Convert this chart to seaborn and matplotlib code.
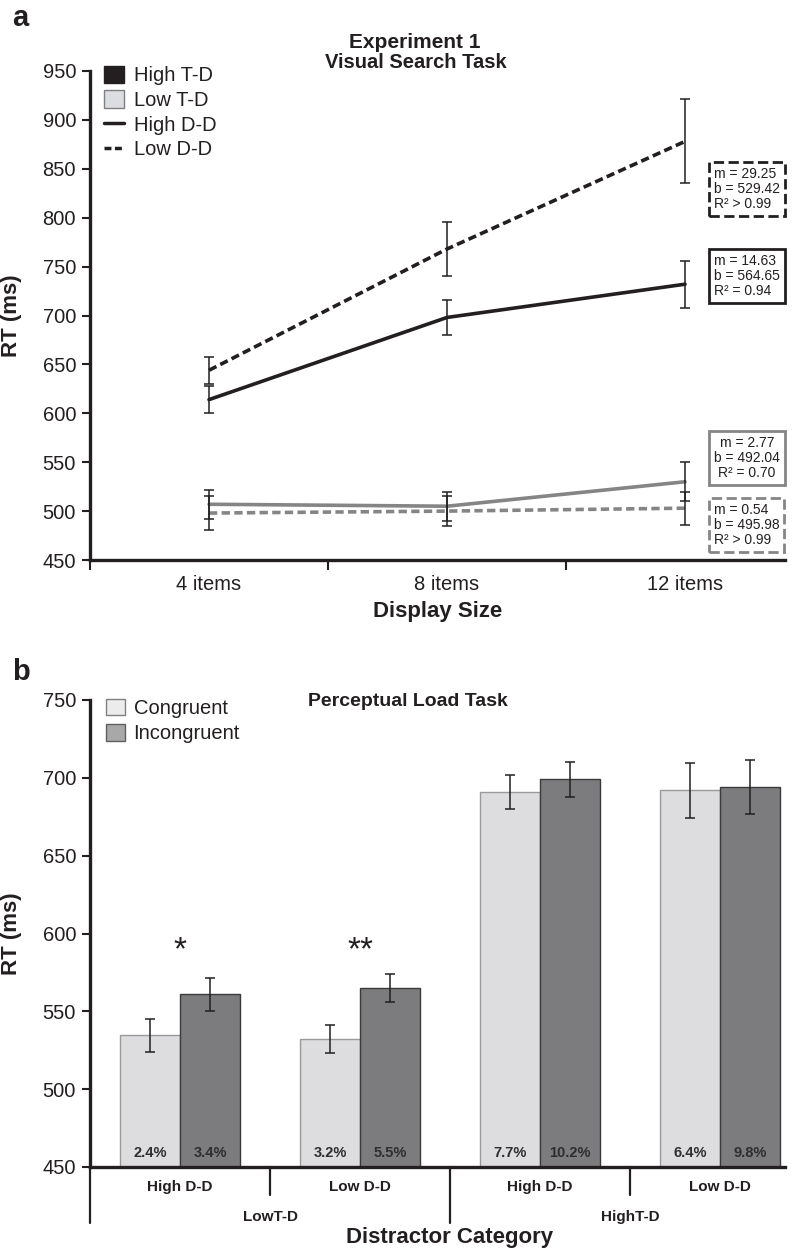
import matplotlib
matplotlib.use("Agg")
import matplotlib.pyplot as plt
import matplotlib.transforms as mtransforms
from matplotlib.patches import Patch
from matplotlib.lines import Line2D
import pandas as pd
import seaborn as sns

# ---- panel a: visual search task ----
display_sizes = ["4 items", "8 items", "12 items"]
high_td_high_dd = [614, 698, 732]
high_td_high_dd_err = [14, 18, 24]
high_td_low_dd = [644, 768, 878]
high_td_low_dd_err = [14, 28, 43]
low_td_high_dd = [507, 505, 530]
low_td_high_dd_err = [15, 15, 20]
low_td_low_dd = [498, 500, 503]
low_td_low_dd_err = [17, 15, 17]

fit_m = ["29.25", "14.63", "2.77", "0.54"]
fit_b = ["529.42", "564.65", "492.04", "495.98"]
fit_r2 = ["R² > 0.99", "R² = 0.94", "R² = 0.70", "R² > 0.99"]

# ---- panel b: perceptual load task ----
dd_labels = ["High D-D", "Low D-D", "High D-D", "Low D-D"]
td_labels = ["LowT-D", "HighT-D"]
congruent = [534.5, 532, 691, 692]
congruent_err = [10.5, 9, 11, 17.5]
incongruent = [561, 565, 699, 694]
incongruent_err = [10.5, 9, 11, 17.5]
congruent_pct = ["2.4%", "3.2%", "7.7%", "6.4%"]
incongruent_pct = ["3.4%", "5.5%", "10.2%", "9.8%"]
stars = ["*", "**", "", ""]

sns.set_theme(style="ticks")
plt.rcParams["font.family"] = ["Liberation Sans", "DejaVu Sans"]
INK = "#231f20"
GRAY = "#858585"
LIGHT = "#dcdde0"
DARK = "#7b7c80"
NARROW = ["Liberation Sans Narrow", "Liberation Sans", "DejaVu Sans"]
TICK_FS = 14.5
LABEL_FS = 16
TITLE_FS = 14.5

W, H = 798, 1252
fig = plt.figure(figsize=(W / 100, H / 100), dpi=100)


def px_axes(left, top, right, bottom):
    return fig.add_axes([left / W, 1 - bottom / H, (right - left) / W, (bottom - top) / H])


def style_axes(ax):
    sns.despine(ax=ax)
    for s in ["left", "bottom"]:
        ax.spines[s].set_linewidth(2.4)
        ax.spines[s].set_color(INK)
    ax.tick_params(axis="y", length=6, width=1.5, color=INK, labelsize=TICK_FS,
                   labelcolor=INK, pad=4)
    ax.set_facecolor("white")


# ================= panel a =================
ax = px_axes(90, 71, 785, 560)
rows = []
series = [
    ("High T-D", "High D-D", high_td_high_dd, high_td_high_dd_err),
    ("High T-D", "Low D-D", high_td_low_dd, high_td_low_dd_err),
    ("Low T-D", "High D-D", low_td_high_dd, low_td_high_dd_err),
    ("Low T-D", "Low D-D", low_td_low_dd, low_td_low_dd_err),
]
for td, dd, vals, errs in series:
    for i, (v, e) in enumerate(zip(vals, errs)):
        rows.append({"pos": i, "rt": v, "err": e, "td": td, "dd": dd})
df_a = pd.DataFrame(rows)

sns.lineplot(data=df_a, x="pos", y="rt", hue="td", style="dd",
             palette={"High T-D": INK, "Low T-D": GRAY},
             dashes={"High D-D": "", "Low D-D": (2.3, 1.2)},
             linewidth=2.6, errorbar=None, legend=False, ax=ax, zorder=2)
for (td, dd), g in df_a.groupby(["td", "dd"]):
    ax.errorbar(g["pos"], g["rt"], yerr=g["err"], fmt="none", ecolor=INK,
                elinewidth=1.1, capsize=3.5, capthick=1.1, zorder=3)

style_axes(ax)
ax.set_ylim(450, 950)
ax.set_yticks(range(450, 951, 50))
ax.set_xlim(-0.5, 2.42)
ax.set_xticks(range(len(display_sizes)))
ax.set_xticklabels(display_sizes)
ax.set_xticks([-0.5, 0.5, 1.5], minor=True)
ax.tick_params(axis="x", which="major", length=0, labelsize=TICK_FS, labelcolor=INK, pad=11)
ax.tick_params(axis="x", which="minor", length=7, width=1.5, color=INK)
ax.set_xlabel("Display Size", fontsize=LABEL_FS, fontweight="bold", color=INK, labelpad=5)
ax.set_ylabel("RT (ms)", fontsize=LABEL_FS, fontweight="bold", color=INK)
ax.yaxis.set_label_coords(-0.098, 0.5)

fig.text(415 / W, 1 - 42 / H, "Experiment 1", ha="center", va="center",
         fontsize=TITLE_FS + 0.5, fontweight="bold", color=INK)
fig.text(416 / W, 1 - 63 / H, "Visual Search Task", ha="center", va="center",
         fontsize=TITLE_FS, fontweight="bold", color=INK)

# regression boxes
box_styles = [
    (INK, "--", 0.758),
    (INK, "-", 0.580),
    (GRAY, "-", 0.208),
    (GRAY, "--", 0.071),
]
for (col, ls, yy), m, b, r2 in zip(box_styles, fit_m, fit_b, fit_r2):
    ax.text(0.945, yy, f"m = {m}\nb = {b}\n{r2}", transform=ax.transAxes,
            ha="center", va="center", fontsize=10, color=INK, linespacing=1.1,
            multialignment="left" if r2 != "R² = 0.70" else "center",
            bbox=dict(boxstyle="square,pad=0.35", facecolor="white",
                      edgecolor=col, linewidth=2.0, linestyle=ls))

handles_a = [
    Patch(facecolor=INK, edgecolor=INK, label="High T-D"),
    Patch(facecolor=LIGHT, edgecolor="#808080", label="Low T-D"),
    Line2D([], [], color=INK, lw=2.5, label="High D-D"),
    Line2D([], [], color=INK, lw=2.5, dashes=(2.0, 1.0), label="Low D-D"),
]
leg = ax.legend(handles=handles_a, loc="upper left", bbox_to_anchor=(0.008, 1.027),
                frameon=False, fontsize=TICK_FS, handlelength=1.0, handleheight=0.95,
                handletextpad=0.5, labelspacing=0.25, borderaxespad=0)
for t in leg.get_texts():
    t.set_color(INK)

# ================= panel b =================
bx = px_axes(90, 700, 785, 1167)
rows = []
for i in range(len(dd_labels)):
    rows.append({"grp": i, "cond": "Congruent", "rt": congruent[i]})
    rows.append({"grp": i, "cond": "Incongruent", "rt": incongruent[i]})
df_b = pd.DataFrame(rows)

sns.barplot(data=df_b, x="grp", y="rt", hue="cond",
            palette={"Congruent": LIGHT, "Incongruent": DARK},
            width=0.667, gap=0, errorbar=None, legend=False, ax=bx, zorder=2)

edge_cols = ["#9a9a9a", "#3a3a3a"]
errs = [congruent_err, incongruent_err]
pcts = [congruent_pct, incongruent_pct]
bar_conts = list(bx.containers)[:2]
for k, cont in enumerate(bar_conts):
    xs, ys = [], []
    for j, bar in enumerate(cont):
        bar.set_edgecolor(edge_cols[k])
        bar.set_linewidth(1.0)
        cx = bar.get_x() + bar.get_width() / 2
        xs.append(cx)
        ys.append(bar.get_height() + bar.get_y())
        bx.text(cx, 459, pcts[k][j], ha="center", va="center", fontsize=10.5,
                fontweight="bold", color="#2e2e2e", family=NARROW)
    bx.errorbar(xs, ys, yerr=errs[k], fmt="none", ecolor=INK, elinewidth=1.1,
                capsize=3.5, capthick=1.1, zorder=3)

style_axes(bx)
bx.set_ylim(450, 750)
bx.set_yticks(range(450, 751, 50))
bx.set_xlim(-0.5, 3.361)
bx.tick_params(axis="x", length=0, labelbottom=False)
bx.set_xlabel("")
bx.set_ylabel("RT (ms)", fontsize=LABEL_FS, fontweight="bold", color=INK)
bx.yaxis.set_label_coords(-0.098, 0.5)

for i, s in enumerate(stars):
    if s:
        bx.text(i, 589, s, ha="center", va="center", fontsize=24, color=INK)

trans = mtransforms.blended_transform_factory(bx.transData, bx.transAxes)
for i, lab in enumerate(dd_labels):
    bx.text(i, -0.043, lab, transform=trans, ha="center", va="center",
            fontsize=11, fontweight="bold", color=INK, family=NARROW)
for i, lab in enumerate(td_labels):
    bx.text(0.5 + 2 * i, -0.107, lab, transform=trans, ha="center", va="center",
            fontsize=11, fontweight="bold", color=INK, family=NARROW)
for xv, depth in [(-0.5, -0.12), (0.5, -0.06), (1.5, -0.12), (2.5, -0.06)]:
    bx.plot([xv, xv], [0, depth], transform=trans, clip_on=False, color=INK, lw=1.6)
bx.text(1.5, -0.152, "Distractor Category", transform=trans, ha="center",
        va="center", fontsize=LABEL_FS, fontweight="bold", color=INK)

fig.text(408 / W, 1 - 702 / H, "Perceptual Load Task", ha="center", va="center",
         fontsize=TITLE_FS - 0.5, fontweight="bold", color=INK)

handles_b = [
    Patch(facecolor="#ececec", edgecolor="#808080", label="Congruent"),
    Patch(facecolor="#a8a8a8", edgecolor="#606060", label="Incongruent"),
]
leg = bx.legend(handles=handles_b, loc="upper left", bbox_to_anchor=(0.012, 1.02),
                frameon=False, fontsize=TICK_FS, handlelength=0.9, handleheight=0.9,
                handletextpad=0.45, labelspacing=0.3, borderaxespad=0)
for t in leg.get_texts():
    t.set_color(INK)

fig.text(12 / W, 1 - 18 / H, "a", ha="left", va="center", fontsize=21,
         fontweight="bold", color=INK)
fig.text(12 / W, 1 - 672 / H, "b", ha="left", va="center", fontsize=21,
         fontweight="bold", color=INK)

fig.savefig("out.png", dpi=100, facecolor="white")
